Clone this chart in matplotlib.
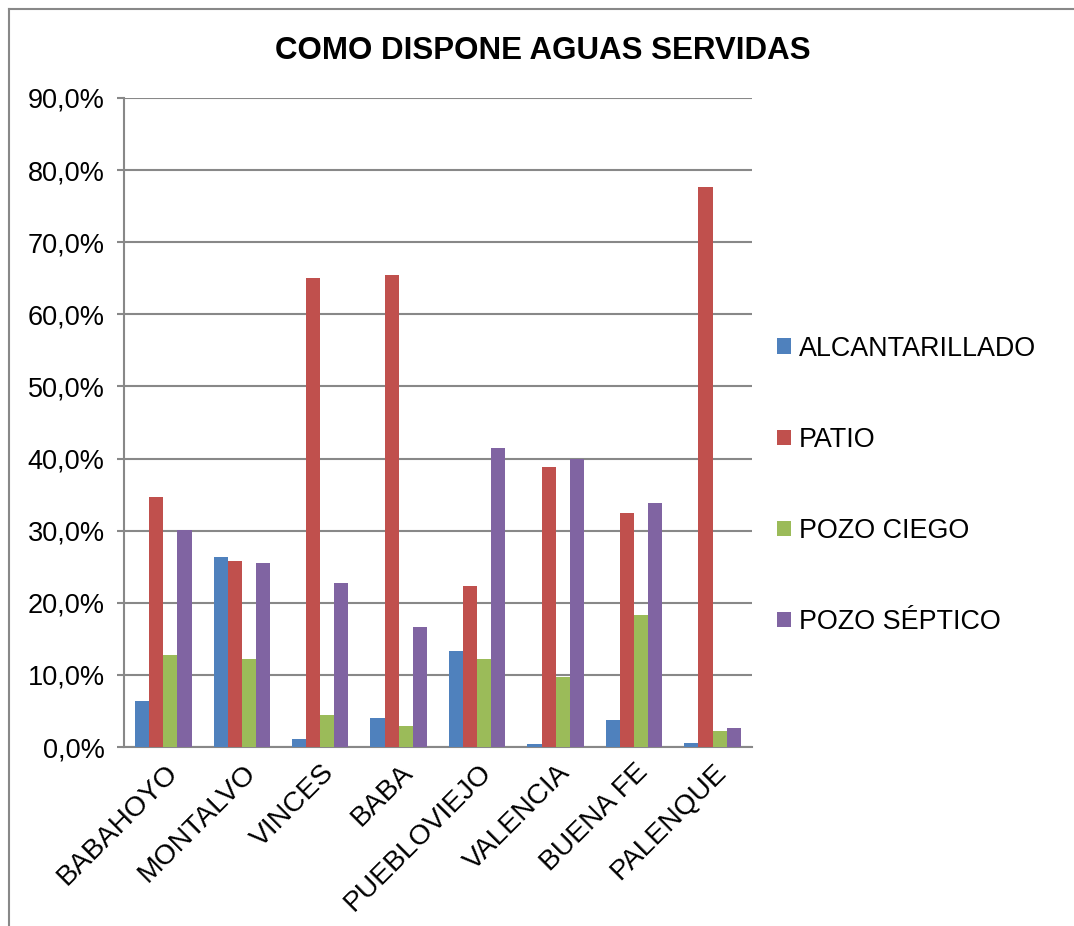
import matplotlib.pyplot as plt
import matplotlib.transforms as mtransforms
import numpy as np
from matplotlib.lines import Line2D
from matplotlib.ticker import FuncFormatter

plt.rcParams['font.family'] = ['Liberation Sans', 'DejaVu Sans']

cantones = ['BABAHOYO', 'MONTALVO', 'VINCES', 'BABA', 'PUEBLOVIEJO',
            'VALENCIA', 'BUENA FE', 'PALENQUE']
series = ['ALCANTARILLADO', 'PATIO', 'POZO CIEGO', 'POZO SÉPTICO']
alcantarillado = [6.4, 26.4, 1.1, 4.0, 13.3, 0.4, 3.7, 0.5]
patio = [34.6, 25.8, 65.1, 65.4, 22.3, 38.8, 32.5, 77.6]
pozo_ciego = [12.8, 12.2, 4.5, 2.9, 12.2, 9.7, 18.3, 2.2]
pozo_septico = [30.1, 25.5, 22.8, 16.6, 41.4, 39.9, 33.8, 2.7]
colores = ['#4F81BD', '#C0504D', '#9BBB59', '#8064A2']

valores = [alcantarillado, patio, pozo_ciego, pozo_septico]

fig = plt.figure(figsize=(10.74, 9.26), dpi=100)
ax = fig.add_axes([0.1155, 0.1933, 0.5845, 0.7009])

x = np.arange(len(cantones))
ancho = 0.18
for i, (nombre, vals) in enumerate(zip(series, valores)):
    ax.bar(x + (i - 1.5) * ancho, vals, ancho, color=colores[i], label=nombre,
           zorder=3)

ax.set_xlim(-0.5, len(cantones) - 0.5)
ax.set_ylim(0, 90)
ax.set_yticks(np.arange(0, 91, 10))
ax.yaxis.set_major_formatter(FuncFormatter(lambda v, p: f'{v:.1f}%'.replace('.', ',')))
ax.grid(axis='y', color='#888888', linewidth=1.5, zorder=0)

for s in ['top', 'right']:
    ax.spines[s].set_visible(False)
for s in ['left', 'bottom']:
    ax.spines[s].set_color('#888888')
    ax.spines[s].set_linewidth(1.5)

ax.tick_params(axis='y', length=5, width=1.5, color='#888888', pad=9,
               labelsize=19.5)
ax.tick_params(axis='x', length=0, pad=6, labelsize=20.3)
ax.set_xticks(x)
ax.set_xticklabels(cantones, rotation=45, ha='right', va='top',
                   rotation_mode='anchor')
desplazar = mtransforms.ScaledTranslation(1 / 100, -4 / 100, fig.dpi_scale_trans)
for lbl in ax.get_xticklabels():
    lbl.set_transform(lbl.get_transform() + desplazar)

fig.text(0.505, 0.945, 'COMO DISPONE AGUAS SERVIDAS', ha='center', va='center',
         fontsize=22.5, fontweight='bold')

ax.legend(loc='center left', bbox_to_anchor=(1.002, 0.403), frameon=False,
          fontsize=19.4, handlelength=0.5, handleheight=0.5, handletextpad=0.3,
          labelspacing=2.42)

# borde del area del grafico
fig.add_artist(Line2D([0.0085, 0.0085], [0, 1 - 8.5 / 926],
                      transform=fig.transFigure, color='#888888', linewidth=1.5))
fig.add_artist(Line2D([0.0085, 1], [1 - 8.5 / 926, 1 - 8.5 / 926],
                      transform=fig.transFigure, color='#888888', linewidth=1.5))

fig.savefig('out.png', dpi=100)
